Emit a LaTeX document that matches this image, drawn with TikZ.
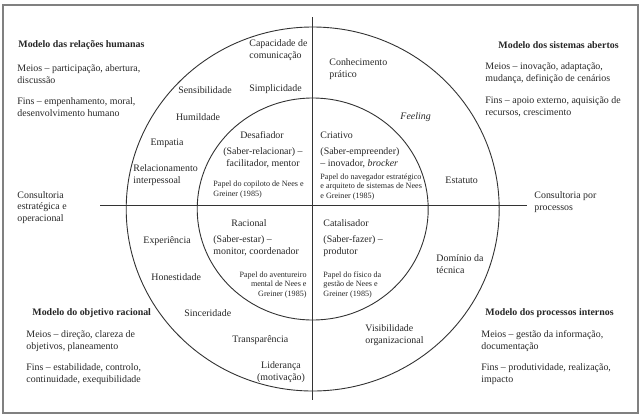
\documentclass[tikz,border=0pt]{standalone}
\usepackage{fontspec}
\setmainfont{Liberation Serif}
\usepackage{tikz}
\def\txt{\fontsize{9.9}{11.8}\selectfont}
\def\sml{\fontsize{8.1}{9.4}\selectfont}

\begin{document}
\begin{tikzpicture}[x=1pt,y=-1pt,line width=0.9pt,
    lbl/.style={inner sep=0pt,anchor=west,align=left,font=\txt,text=black!85},
    mid/.style={lbl,anchor=center,align=center},
    note/.style={lbl,font=\sml}]
                \useasboundingbox (0,0) rectangle (642,418);
                \draw[black!50,line width=1.2pt] (3,5) rectangle (638,413);
                % the two circles and the axes
                \coordinate (c) at (312.7,209);
                \coordinate (n) at (312.7,17);
                \coordinate (s) at (312.7,400);
                \coordinate (w) at (100,205);
                \coordinate (e) at (527,205);
                \draw[black!80] (c) ellipse [x radius=186.5, y radius=182];
                \draw[black!80] (c) ellipse [x radius=115.5, y radius=111];
                \draw[black!80] (n) -- (s);
                \draw[black!80] (w) -- (e);
                % the four models
                \node[lbl] (humtitle) at (18,45) {\textbf{Modelo das relações humanas}};
                \node[lbl] (hummeans) at (17,74) {Meios – participação, abertura,\\discussão};
                \node[lbl] (humends) at (17,107.5) {Fins – empenhamento, moral,\\desenvolvimento humano};
                \node[lbl] (opentitle) at (498,45) {\textbf{Modelo dos sistemas abertos}};
                \node[lbl] (openmeans) at (485,73.5) {Meios – inovação, adaptação,\\mudança, definição de cenários};
                \node[lbl] (openends) at (485,106.5) {Fins – apoio externo, aquisição de\\recursos, crescimento};
                \node[lbl] (rattitle) at (32,313) {\textbf{Modelo do objetivo racional}};
                \node[lbl] (ratmeans) at (26,341) {Meios – direção, clareza de\\objetivos, planeamento};
                \node[lbl] (ratends) at (26,374) {Fins – estabilidade, controlo,\\continuidade, exequibilidade};
                \node[lbl] (inttitle) at (485,313) {\textbf{Modelo dos processos internos}};
                \node[lbl] (intmeans) at (481,341) {Meios – gestão da informação,\\documentação};
                \node[lbl] (intends) at (481,374) {Fins – produtividade, realização,\\impacto};
                \node[lbl] (consultl) at (17,207.5) {Consultoria\\estratégica e\\operacional};
                \node[lbl] (consultr) at (534,202) {Consultoria por\\processos};
                % outer ring
                \node[mid] (sensib) at (205,90) {Sensibilidade};
                \node[mid] (humild) at (198,117) {Humildade};
                \node[mid] (empatia) at (167,143) {Empatia};
                \node[lbl] (relac) at (133,175.5) {Relacionamento\\interpessoal};
                \node[lbl] (capac) at (249,50.5) {Capacidade de\\comunicação};
                \node[lbl] (simpl) at (249,89) {Simplicidade};
                \node[lbl] (conhec) at (329,69) {Conhecimento\\prático};
                \node[lbl] (feeling) at (400,117) {\textit{Feeling}};
                \node[lbl] (estatuto) at (445,180) {Estatuto};
                \node[lbl] (exper) at (143,241) {Experiência};
                \node[lbl] (honest) at (151,277) {Honestidade};
                \node[lbl] (sincer) at (184,313) {Sinceridade};
                \node[lbl] (transp) at (232,340) {Transparência};
                \node[mid] (lider) at (281,372) {Liderança\\(motivação)};
                \node[lbl] (visib) at (365,335.5) {Visibilidade\\organizacional};
                \node[lbl] (dominio) at (436,264.5) {Domínio da\\técnica};
                % inner circle
                \node[mid] (desaf) at (262,135) {Desafiador};
                \node[mid] (saberrel) at (263,157.5) {(Saber-relacionar) –\\facilitador, mentor};
                \node[note] (copiloto) at (213,189.5) {Papel do copiloto de Nees e\\Greiner (1985)};
                \node[lbl] (criativo) at (320,135) {Criativo};
                \node[lbl] (saberemp) at (320,157.5) {(Saber-empreender)\\– inovador, \textit{brocker}};
                \node[note] (naveg) at (320,187) {Papel do navegador estratégico\\e arquiteto de sistemas de Nees\\e Greiner (1985)};
                \node[mid] (racional) at (249,223) {Racional};
                \node[lbl] (saberest) at (213,246) {(Saber-estar) –\\monitor, coordenador};
                \node[note,anchor=east,align=right] (avent) at (307,285) {Papel do aventureiro\\mental de Nees e\\Greiner (1985)};
                \node[lbl] (catal) at (323,223) {Catalisador};
                \node[lbl] (saberfaz) at (323,246) {(Saber-fazer) –\\produtor};
                \node[note] (fisico) at (323,285) {Papel do físico da\\gestão de Nees e\\Greiner (1985)};
            \end{tikzpicture}
\end{document}
